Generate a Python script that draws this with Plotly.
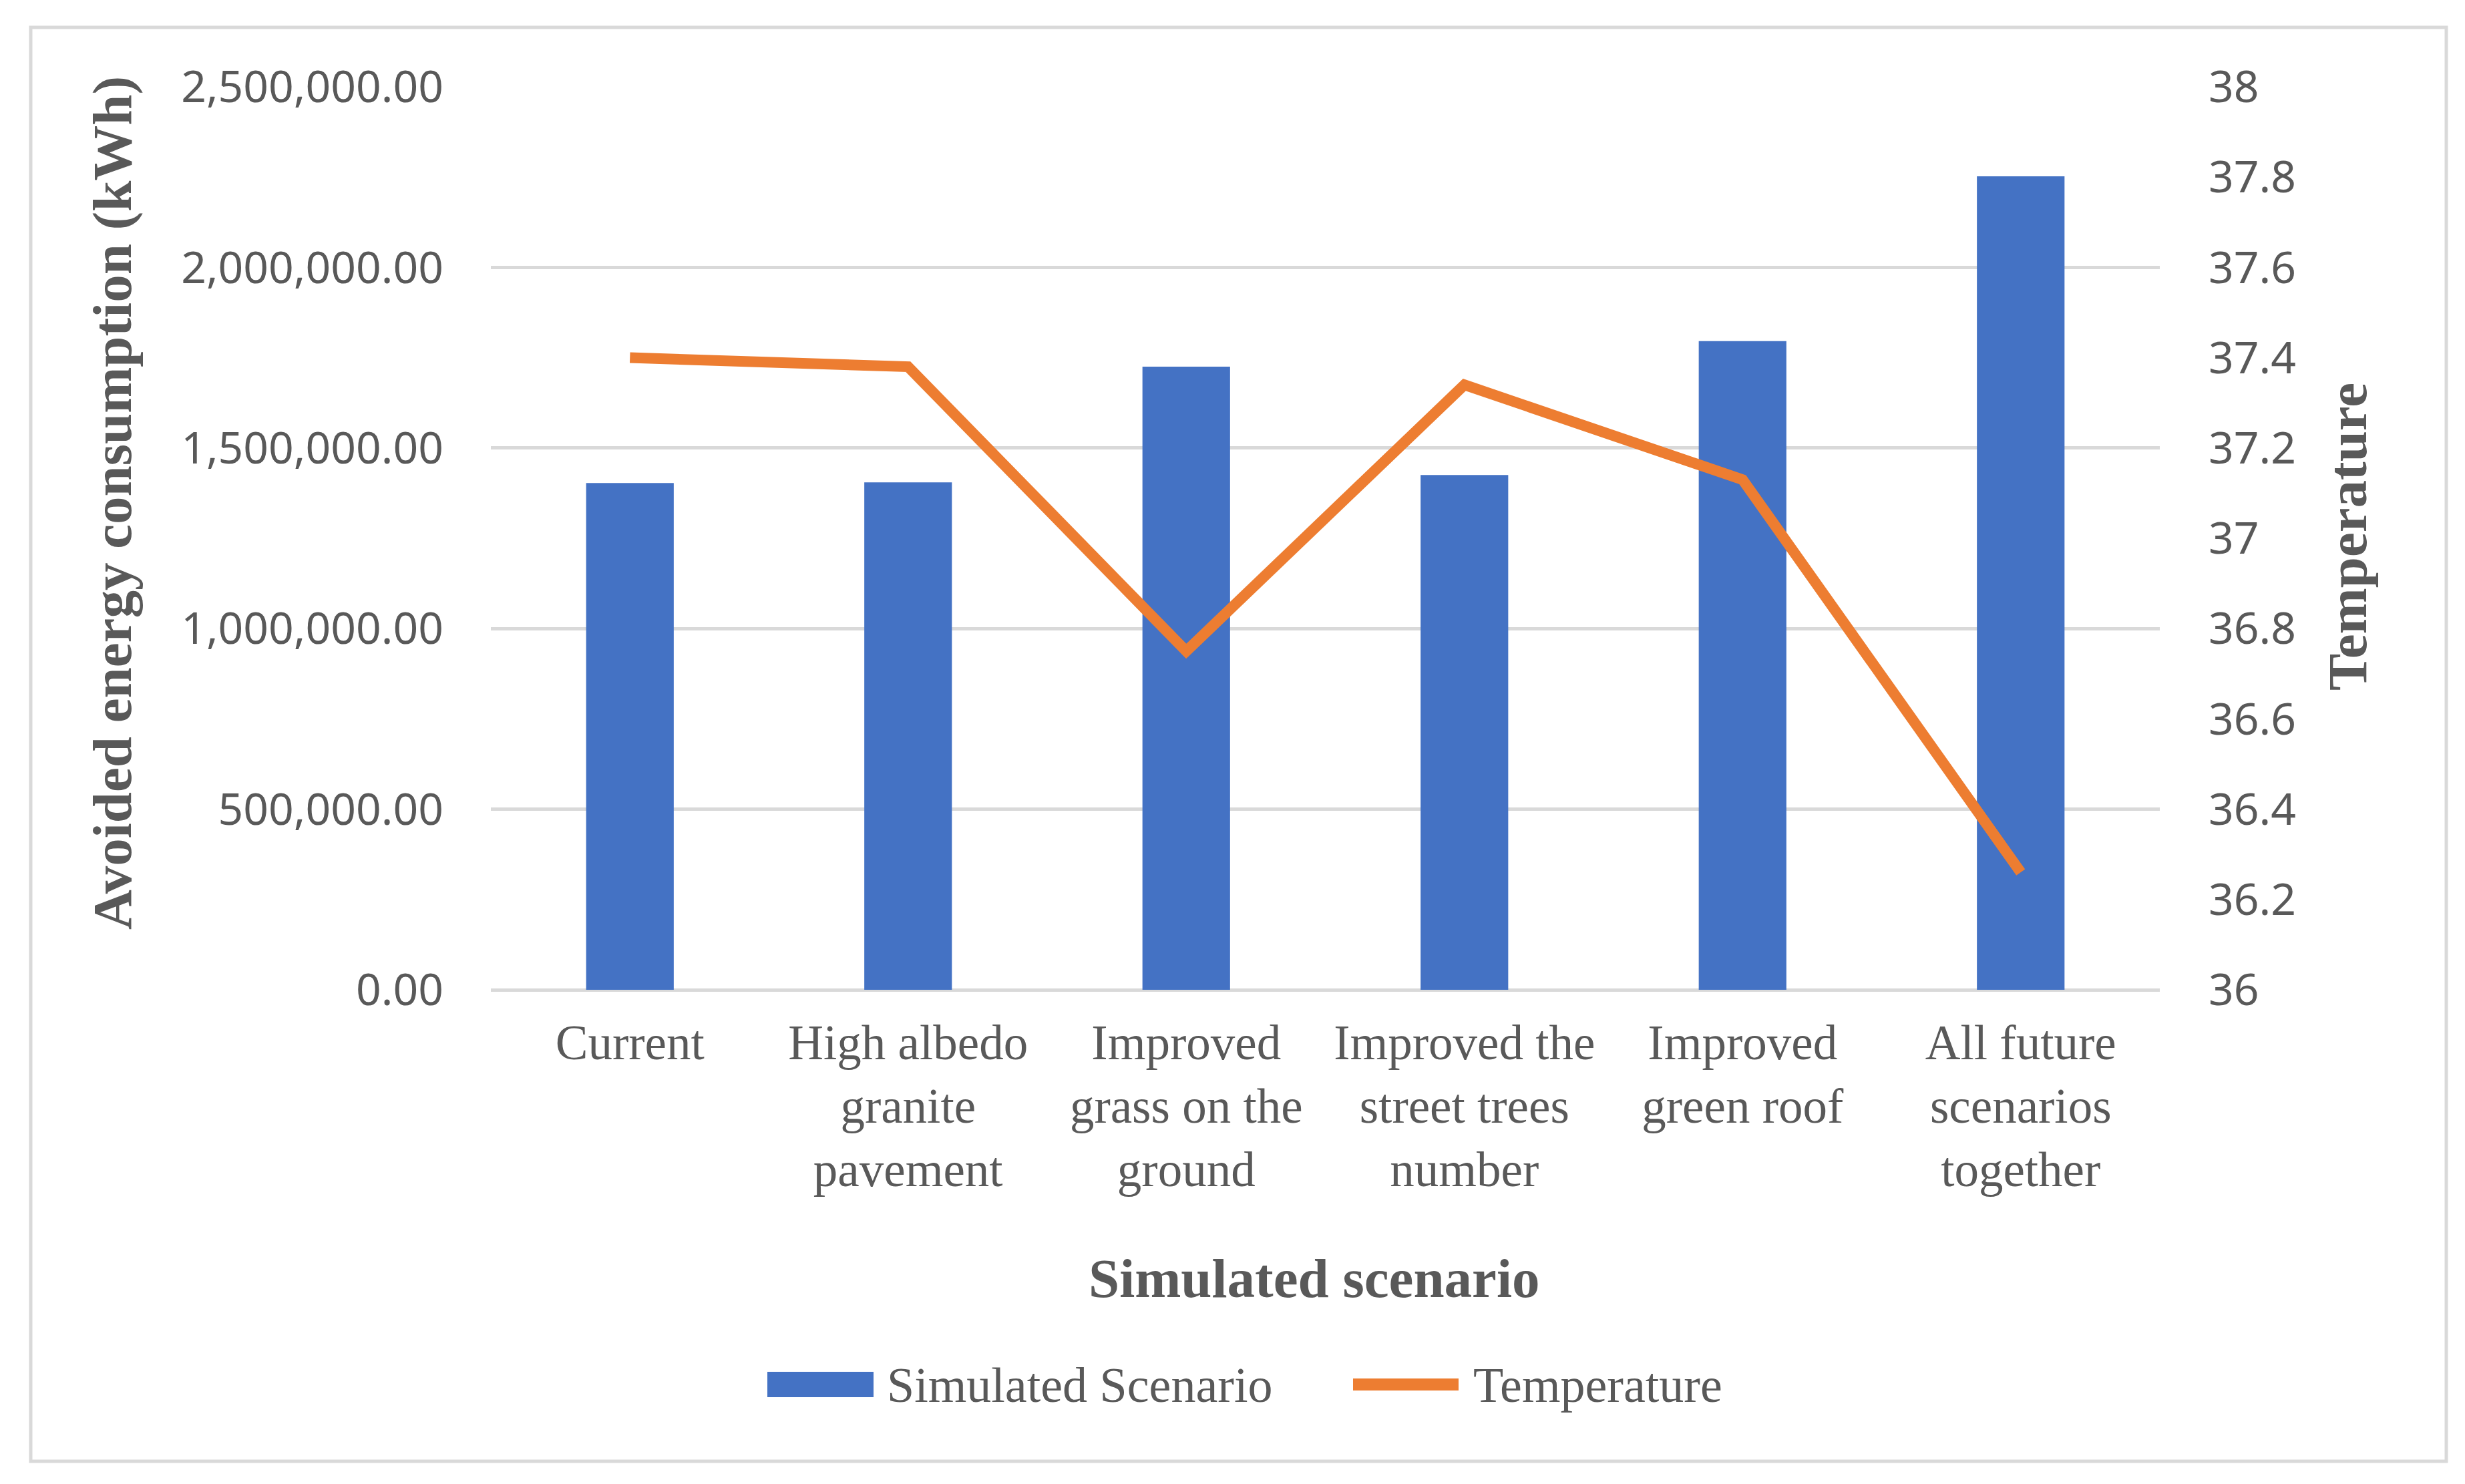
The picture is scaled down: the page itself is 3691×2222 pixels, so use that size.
import plotly.graph_objects as go

# scenarios on the x axis
categories = ['Current', 'High albedo granite pavement', 'Improved grass on the ground',
              'Improved the street trees number', 'Improved green roof', 'All future scenarios together']
tick_labels = ['Current', 'High albedo<br>granite<br>pavement', 'Improved<br>grass on the<br>ground',
               'Improved the<br>street trees<br>number', 'Improved<br>green roof', 'All future<br>scenarios<br>together']

# avoided energy consumption (kWh)
energy = [1403000, 1405000, 1725000, 1425000, 1796000, 2252000]
# temperature
temperature = [37.40, 37.38, 36.75, 37.34, 37.13, 36.26]

grey = '#595959'
grid = '#d9d9d9'
serif = 'Liberation Serif'
sans = 'Noto Sans'

W, H = 3691, 2222
L, R, T, B = 727, 465, 122, 748
pw, ph = W - L - R, H - T - B


def px(x):
    return (x - L) / pw


def py(y):
    return (H - B - y) / ph


fig = go.Figure()

fig.add_trace(go.Bar(
    x=categories, y=energy, name='Simulated Scenario',
    marker=dict(color='#4472C4', line=dict(width=0)),
    width=0.315, yaxis='y',
))

fig.add_trace(go.Scatter(
    x=categories, y=temperature, name='Temperature',
    mode='lines', line=dict(color='#ED7D31', width=16),
    yaxis='y2',
))

fig.update_layout(
    width=W, height=H,
    margin=dict(l=L, r=R, t=T, b=B, pad=0),
    paper_bgcolor='white', plot_bgcolor='white',
    showlegend=False,
    xaxis=dict(
        tickvals=categories, ticktext=tick_labels,
        tickfont=dict(family=serif, size=73, color=grey),
        showgrid=False, showline=False, ticks='',
        ticklabelstandoff=30,
    ),
    yaxis=dict(
        range=[0, 2500000], dtick=500000, tick0=0,
        tickformat=',.2f',
        tickfont=dict(family=sans, size=66, color=grey),
        showgrid=True, gridcolor=grid, gridwidth=5,
        zeroline=True, zerolinecolor=grid, zerolinewidth=5,
        showline=False, ticks='', ticklabelstandoff=70,
    ),
    yaxis2=dict(
        range=[36, 38], dtick=0.2, tick0=36,
        overlaying='y', side='right',
        tickfont=dict(family=sans, size=66, color=grey),
        showgrid=False, zeroline=False, showline=False,
        ticks='', ticklabelstandoff=72,
    ),
)

# axis titles
fig.add_annotation(text='<b>Avoided energy consumption (kWh)</b>', xref='paper', yref='paper',
                   x=px(160), y=py(745), xanchor='center', yanchor='middle',
                   textangle=-90, showarrow=False,
                   font=dict(family=serif, size=83, color=grey))
fig.add_annotation(text='<b>Temperature</b>', xref='paper', yref='paper',
                   x=px(3507), y=py(796), xanchor='center', yanchor='middle',
                   textangle=-90, showarrow=False,
                   font=dict(family=serif, size=83, color=grey))
fig.add_annotation(text='<b>Simulated scenario</b>', xref='paper', yref='paper',
                   x=px(1960), y=py(1906), xanchor='center', yanchor='middle',
                   showarrow=False,
                   font=dict(family=serif, size=83, color=grey))

# legend drawn by hand so the keys keep their size
fig.add_shape(type='rect', xref='paper', yref='paper',
              x0=px(1141), x1=px(1300), y0=py(2084), y1=py(2046),
              fillcolor='#4472C4', line=dict(width=0))
fig.add_annotation(text='Simulated Scenario', xref='paper', yref='paper',
                   x=px(1318), y=py(2066), xanchor='left', yanchor='middle',
                   showarrow=False,
                   font=dict(family=serif, size=74, color=grey))
fig.add_shape(type='line', xref='paper', yref='paper',
              x0=px(2018), x1=px(2176), y0=py(2065), y1=py(2065),
              line=dict(color='#ED7D31', width=18))
fig.add_annotation(text='Temperature', xref='paper', yref='paper',
                   x=px(2196), y=py(2066), xanchor='left', yanchor='middle',
                   showarrow=False,
                   font=dict(family=serif, size=74, color=grey))

# chart border
fig.add_shape(type='rect', xref='paper', yref='paper',
              x0=px(38), x1=px(3655), y0=py(2180), y1=py(33),
              line=dict(color=grid, width=5), fillcolor='rgba(0,0,0,0)')

fig.write_html('out.html')
